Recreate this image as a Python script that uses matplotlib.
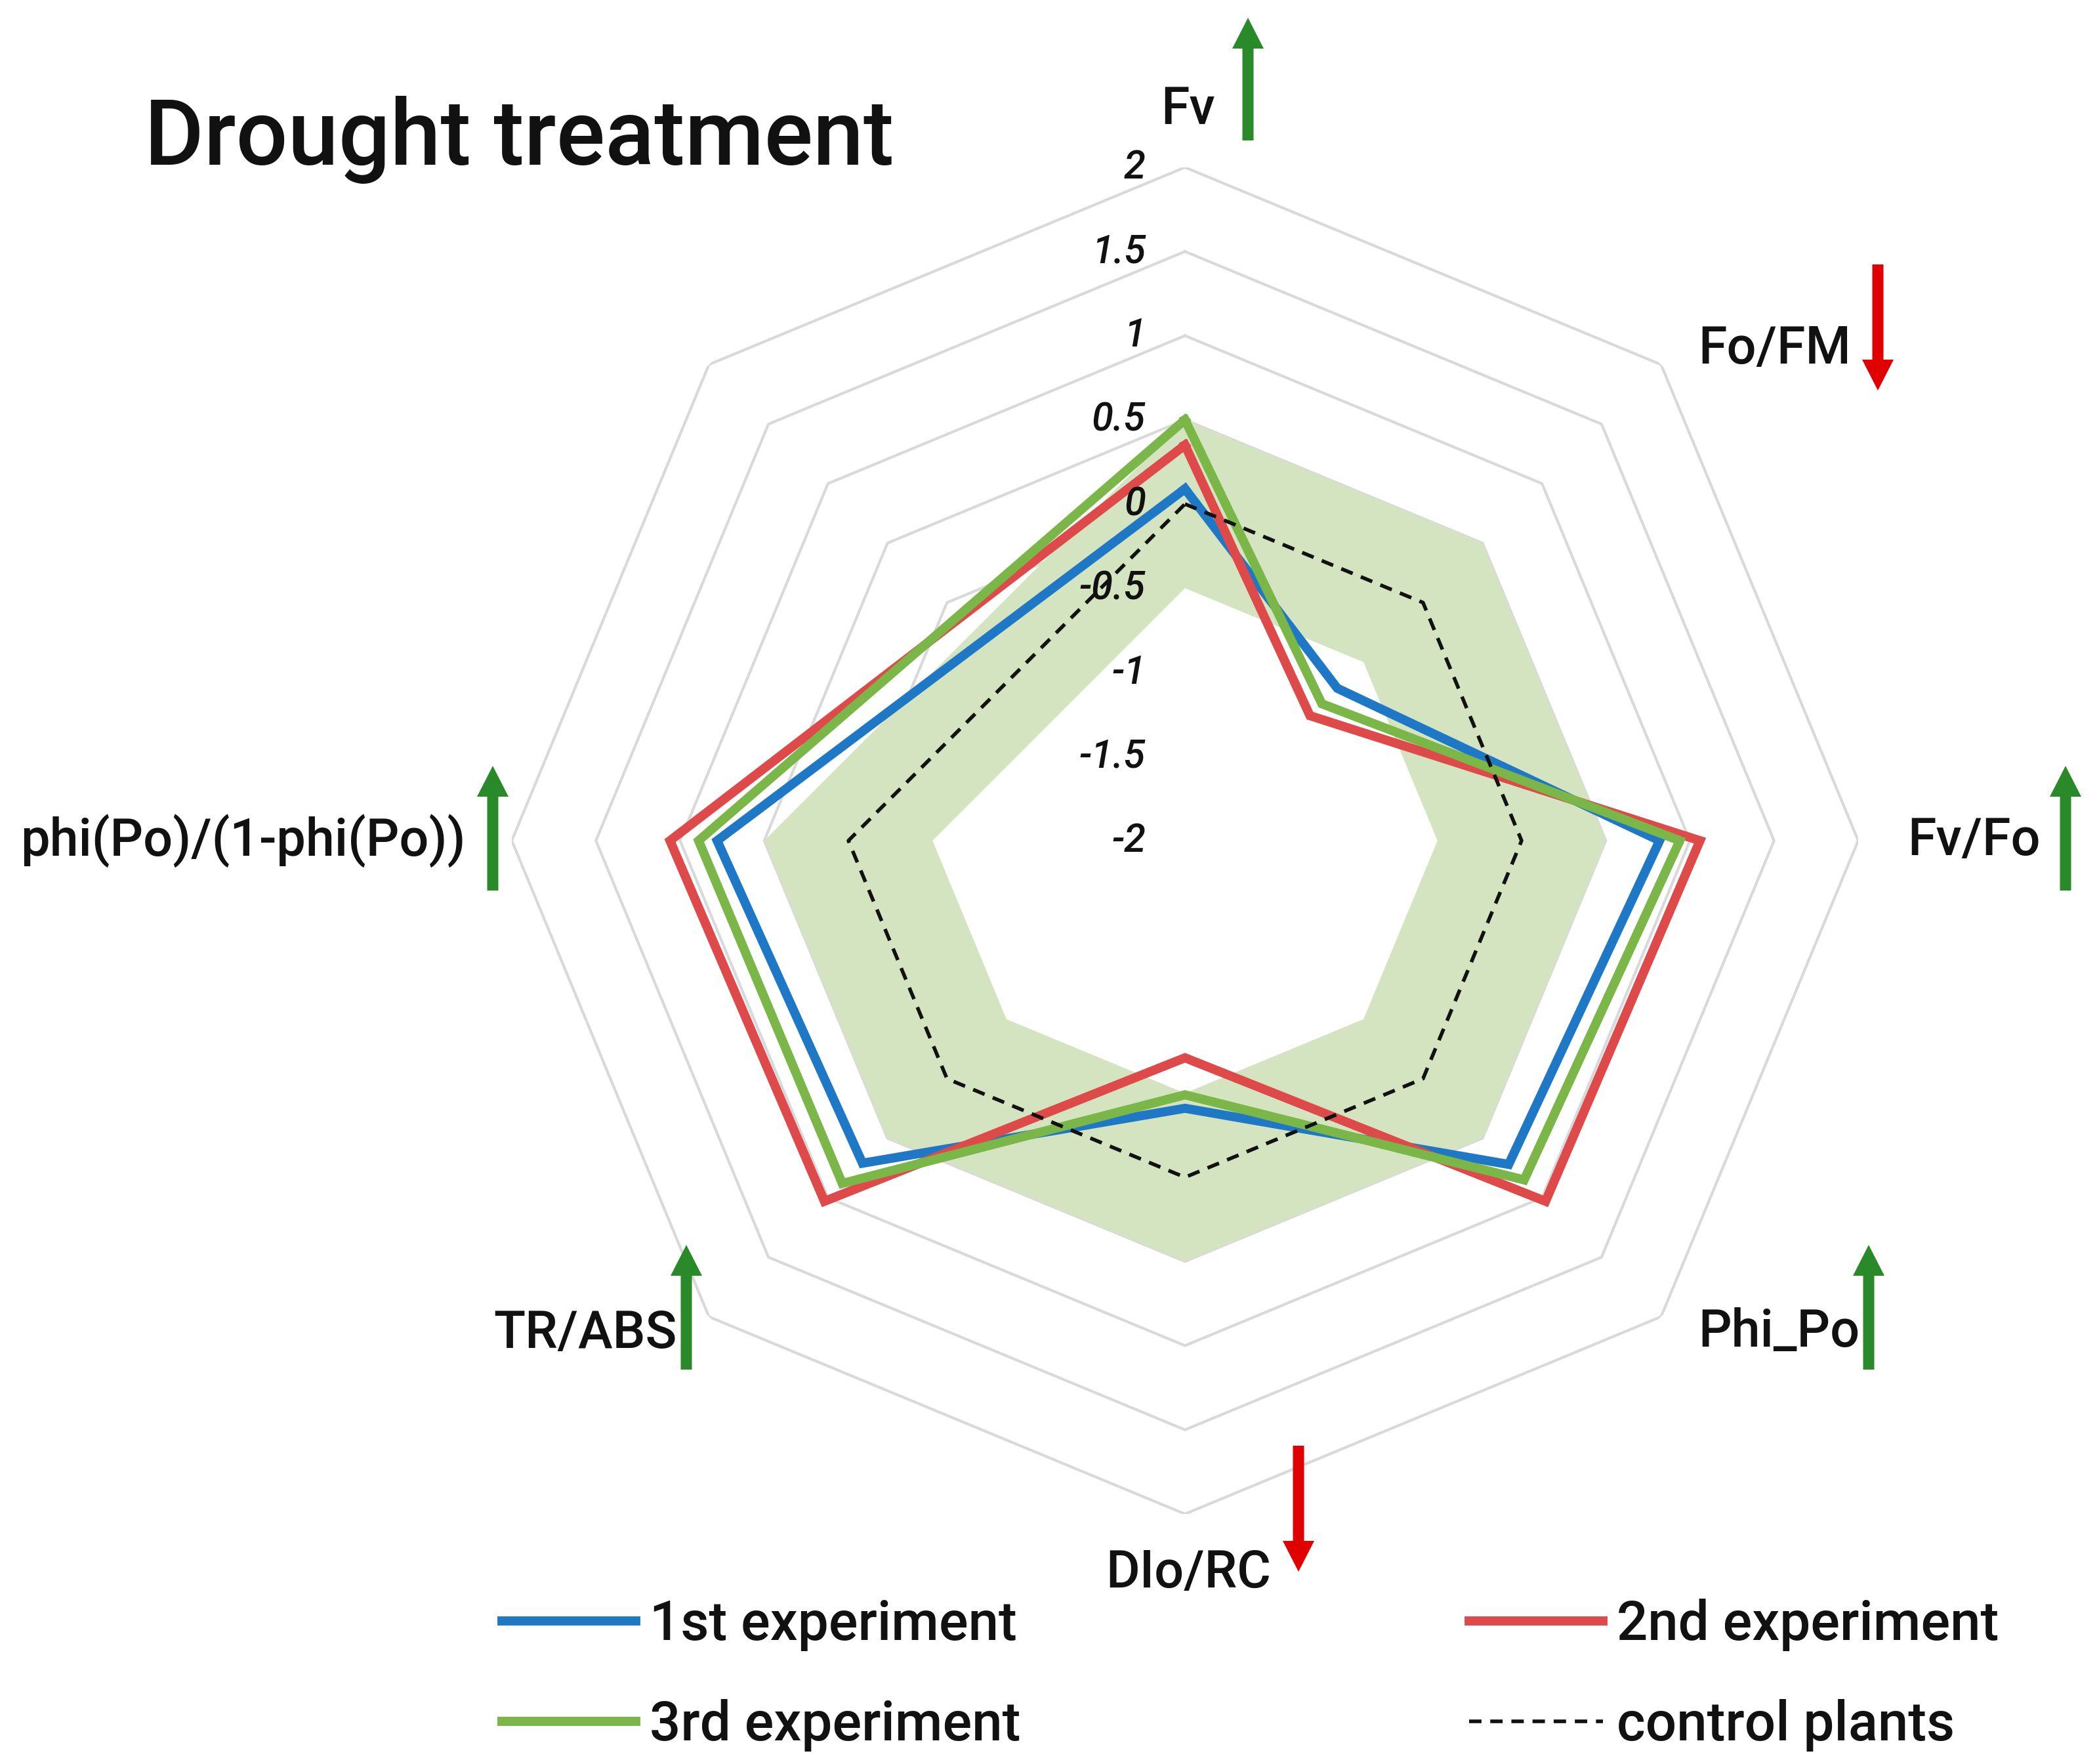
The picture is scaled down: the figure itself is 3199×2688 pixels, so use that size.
import numpy as np
import matplotlib
matplotlib.use("Agg")
import matplotlib.pyplot as plt
from matplotlib import font_manager
from matplotlib.patches import FancyArrow
from matplotlib.lines import Line2D

# ---------------- data ----------------
categories = ["Fv", "Fo/FM", "Fv/Fo", "Phi_Po", "DIo/RC", "TR/ABS", "phi(Po)/(1-phi(Po))", ""]
trend = ["up", "down", "up", "up", "down", "up", "up", None]
exp1 = [0.09, -0.72, 0.82, 0.72, -0.41, 0.71, 0.78]
exp2 = [0.35, -0.95, 1.06, 1.03, -0.71, 1.03, 1.06]
exp3 = [0.50, -0.85, 0.94, 0.85, -0.49, 0.88, 0.89]
control = [0, 0, 0, 0, 0, 0, 0]
band_upper = [0.5, 0.5, 0.5, 0.5, 0.5, 0.5, 0.5]
band_lower = [-0.5, -0.5, -0.5, -0.5, -0.5, -0.5, -0.5]
ring_levels = [-1.5, -1, -0.5, 0, 0.5, 1, 1.5, 2]
tick_values = [2, 1.5, 1, 0.5, 0, -0.5, -1, -1.5, -2]
tick_labels = ["2", "1.5", "1", "0.5", "0", "-0.5", "-1", "-1.5", "-2"]
series_names = ["1st experiment", "2nd experiment", "3rd experiment", "control plants"]

# ---------------- fonts ----------------
avail = {f.name for f in font_manager.fontManager.ttflist}
main_font = "Roboto" if "Roboto" in avail else "DejaVu Sans"
narrow_font = "Liberation Sans Narrow" if "Liberation Sans Narrow" in avail else main_font
plt.rcParams["font.family"] = [main_font, "DejaVu Sans"]

# ---------------- styles ----------------
C_BLUE = "#1F78C6"
C_RED = "#DE4A4A"
C_GREEN = "#7AB648"
C_BAND = "#D5E4C0"
C_GRID = "#D9D9D9"
C_UP = "#2A8A2A"
C_DOWN = "#E00000"
LW = 10
CTRL_LS = (0, (3.4, 2.4))

W, H = 3199, 2688
fig = plt.figure(figsize=(W / 100, H / 100), dpi=100)

cx, cy, R = 1806, 1281, 1026
ax = fig.add_axes([(cx - R) / W, (H - cy - R) / H, 2 * R / W, 2 * R / H], projection="polar")
ax.set_theta_zero_location("N")
ax.set_theta_direction(-1)
ax.set_ylim(-2, 2)
ax.grid(False)
ax.set_xticks([])
ax.set_yticks([])
ax.spines["polar"].set_visible(False)
ax.patch.set_visible(False)

n_axes = len(categories)
theta_all = np.linspace(0, 2 * np.pi, n_axes, endpoint=False)
theta_ring = np.append(theta_all, theta_all[0])
n_data = len(exp1)
theta_data = np.append(theta_all[:n_data], theta_all[0])

def closed(vals):
    return list(vals) + [vals[0]]

# grid rings (octagons)
for lvl in ring_levels:
    ax.plot(theta_ring, [lvl] * len(theta_ring), color=C_GRID, lw=3.0, zorder=1)

# band
ax.fill(theta_data, closed(band_upper), color=C_BAND, lw=0, zorder=2)
ax.fill(theta_data, closed(band_lower), color="white", lw=0, zorder=3)

# series
ax.plot(theta_data, closed(exp1), color=C_BLUE, lw=LW, zorder=5, solid_joinstyle="miter")
ax.plot(theta_data, closed(exp2), color=C_RED, lw=LW, zorder=6, solid_joinstyle="miter")
ax.plot(theta_data, closed(exp3), color=C_GREEN, lw=LW, zorder=7, solid_joinstyle="miter")
ax.plot(theta_data, closed(control), color="#111111", lw=4.0, ls=CTRL_LS, zorder=8)

# radial tick labels
for v, s in zip(tick_values, tick_labels):
    ax.annotate(s, xy=(0, v), xytext=(-60, 0), textcoords="offset pixels",
                ha="right", va="center", fontsize=43, fontstyle="italic",
                fontweight="medium", color="#111111", zorder=10,
                annotation_clip=False)

# category labels
label_offsets = [(5, 88), (57, 24), (75, 0), (57, -24), (5, -90), (-49, -26), (-70, 0)]
label_ha = ["center", "left", "left", "left", "center", "right", "right"]
for i in range(n_data):
    ax.annotate(categories[i], xy=(theta_all[i], 2), xytext=label_offsets[i],
                textcoords="offset pixels", ha=label_ha[i], va="center",
                fontsize=57, fontweight="medium", color="#111111",
                annotation_clip=False, zorder=10)

# overlay axes in pixel coordinates for arrows / title
oax = fig.add_axes([0, 0, 1, 1], zorder=5)
oax.set_xlim(0, W)
oax.set_ylim(H, 0)
oax.axis("off")

arrow_x = [1902, 2862, 3148, 2848, 1979, 1046, 751]
arrow_top = [27, 403, 1167, 1897, 2203, 1897, 1167]
arrow_bottom = [214, 595, 1357, 2087, 2395, 2087, 1357]
for i in range(n_data):
    if trend[i] == "up":
        y0, y1, col = arrow_bottom[i], arrow_top[i], C_UP
    else:
        y0, y1, col = arrow_top[i], arrow_bottom[i], C_DOWN
    oax.add_patch(FancyArrow(arrow_x[i], y0, 0, y1 - y0, width=17, head_width=48,
                             head_length=47, length_includes_head=True,
                             color=col, lw=0))

oax.text(220, 251, "Drought treatment", ha="left", va="baseline",
         fontsize=100, fontweight="medium", color="#111111")

# legend
handles = [
    Line2D([], [], color=C_BLUE, lw=LW),
    Line2D([], [], color=C_GREEN, lw=LW),
    Line2D([], [], color=C_RED, lw=LW),
    Line2D([], [], color="#111111", lw=4.0, ls=CTRL_LS),
]
labels = [series_names[0], series_names[2], series_names[1], series_names[3]]
leg = fig.legend(handles, labels, ncol=2, loc="upper left",
                 bbox_to_anchor=(765 / W, 1 - 2436 / H), frameon=False,
                 prop={"family": [narrow_font, "DejaVu Sans"], "size": 60,
                       "weight": "medium"},
                 handlelength=2.45, handletextpad=0.25, columnspacing=8.2,
                 labelspacing=0.88, borderpad=0, borderaxespad=0)
for t in leg.get_texts():
    t.set_color("#111111")

fig.savefig("out.png", dpi=100)
